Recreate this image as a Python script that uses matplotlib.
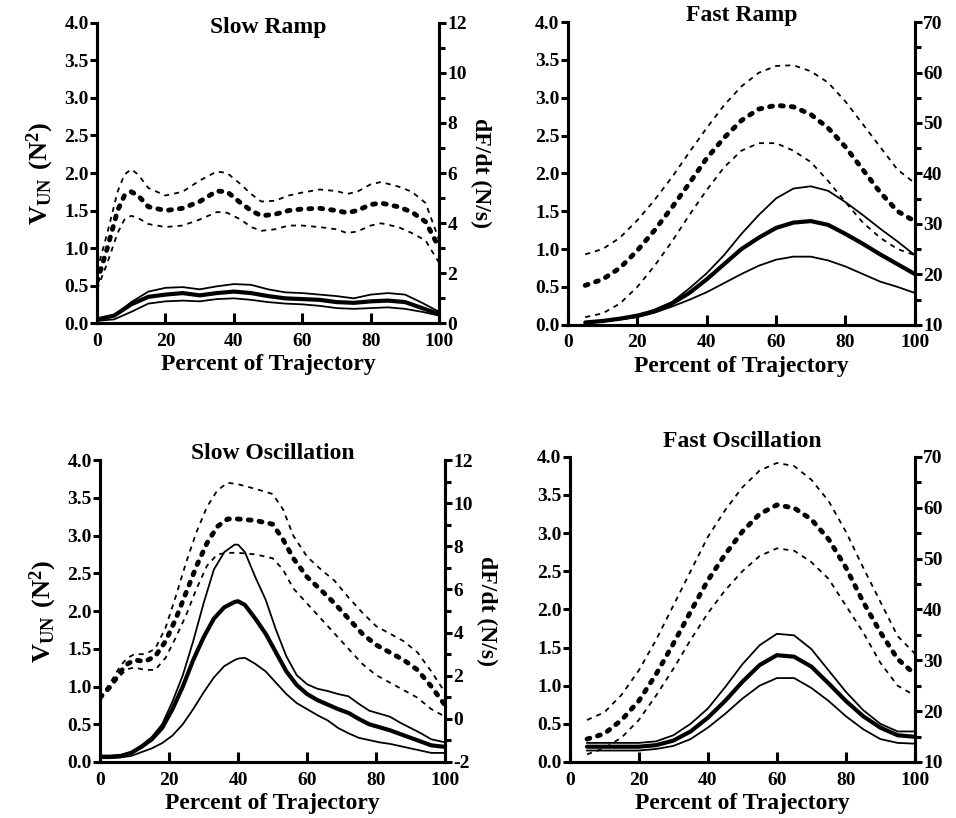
import matplotlib
matplotlib.use("Agg")
import matplotlib.pyplot as plt
import numpy as np
from matplotlib.ticker import MultipleLocator

plt.rcParams['font.family'] = 'Liberation Serif'
plt.rcParams['font.weight'] = 'bold'
plt.rcParams['axes.unicode_minus'] = False
plt.rcParams['mathtext.fontset'] = 'custom'
plt.rcParams['mathtext.rm'] = 'Liberation Serif:bold'
plt.rcParams['mathtext.bf'] = 'Liberation Serif:bold'

# ---- Slow Ramp ----
sr_x = [0, 5, 10, 15, 20, 25, 30, 35, 40, 45, 50, 55, 60, 65, 70, 75, 80, 85, 90, 95, 100]
sr_v = [0.05, 0.1, 0.25, 0.35, 0.38, 0.4, 0.37, 0.4, 0.42, 0.4, 0.36, 0.33, 0.32, 0.31, 0.28, 0.27, 0.29, 0.3, 0.28, 0.2, 0.12]
sr_v_hi = [0.05, 0.1, 0.28, 0.42, 0.47, 0.48, 0.45, 0.49, 0.52, 0.51, 0.45, 0.41, 0.4, 0.38, 0.36, 0.33, 0.38, 0.4, 0.38, 0.27, 0.15]
sr_v_lo = [0.03, 0.05, 0.15, 0.26, 0.29, 0.3, 0.29, 0.32, 0.33, 0.31, 0.28, 0.26, 0.25, 0.23, 0.2, 0.19, 0.2, 0.21, 0.19, 0.15, 0.1]
sr_dx = [0, 3, 6, 8, 10, 12, 15, 20, 25, 30, 35, 38, 42, 45, 48, 52, 56, 60, 65, 70, 73, 76, 80, 83, 88, 92, 96, 100]
sr_df = [1.65, 3.0, 4.5, 5.1, 5.25, 5.1, 4.65, 4.5, 4.59, 4.86, 5.28, 5.25, 4.8, 4.5, 4.29, 4.35,
         4.5, 4.56, 4.59, 4.5, 4.41, 4.5, 4.74, 4.8, 4.65, 4.44, 4.05, 3.0]
sr_df_hi = [2.1, 3.6, 5.25, 5.94, 6.15, 5.94, 5.4, 5.1, 5.25, 5.7, 6.06, 6.0, 5.55, 5.16, 4.86, 4.89,
            5.1, 5.22, 5.34, 5.28, 5.16, 5.25, 5.55, 5.64, 5.46, 5.25, 4.8, 3.3]
sr_df_lo = [1.35, 2.4, 3.6, 4.14, 4.29, 4.2, 3.96, 3.84, 3.9, 4.14, 4.44, 4.41, 4.14, 3.84, 3.69, 3.75,
            3.9, 3.9, 3.84, 3.75, 3.6, 3.66, 3.9, 3.99, 3.84, 3.6, 3.3, 2.4]

# ---- Fast Ramp ----
fr_x = [5, 10, 15, 20, 25, 30, 35, 40, 45, 50, 55, 60, 65, 70, 75, 80, 85, 90, 95, 100]
fr_v = [0.03, 0.05, 0.08, 0.12, 0.18, 0.28, 0.42, 0.6, 0.8, 1.0, 1.15, 1.28, 1.35, 1.37, 1.32, 1.2, 1.07, 0.93, 0.8, 0.67]
fr_v_hi = [0.03, 0.05, 0.08, 0.12, 0.2, 0.3, 0.48, 0.68, 0.92, 1.2, 1.45, 1.67, 1.8, 1.83, 1.77, 1.62, 1.45, 1.27, 1.1, 0.92]
fr_v_lo = [0.02, 0.04, 0.07, 0.1, 0.16, 0.24, 0.33, 0.43, 0.55, 0.67, 0.78, 0.86, 0.9, 0.9, 0.85, 0.77, 0.67, 0.57, 0.5, 0.42]
fr_df = [17.8, 19.0, 21.25, 24.7, 28.75, 33.25, 38.05, 43.0, 47.05, 50.5, 52.75, 53.5, 53.2, 51.7, 49.0, 45.25, 40.75, 36.25, 32.5, 30.5]
fr_df_hi = [23.95, 25.0, 27.25, 30.7, 34.75, 39.25, 44.2, 49.0, 53.5, 57.25, 59.95, 61.3, 61.45, 60.25, 58.0, 54.25, 49.75, 45.25, 40.75, 38.05]
fr_df_lo = [11.5, 12.25, 14.2, 17.5, 21.7, 26.5, 31.75, 36.7, 41.2, 44.5, 46.0, 46.0, 44.5, 42.25, 38.5, 34.3, 30.25, 27.25, 25.0, 23.8]

# ---- Slow Oscillation ----
so_x = [0, 3, 6, 9, 12, 15, 18, 21, 24, 27, 30, 33, 36, 39, 40, 42, 45, 48, 51, 54, 57, 60, 63, 66,
        69, 72, 75, 78, 81, 84, 87, 90, 93, 96, 100]
so_v = [0.07, 0.07, 0.08, 0.12, 0.2, 0.3, 0.45, 0.7, 1.0, 1.35, 1.65, 1.9, 2.05, 2.12, 2.13, 2.08, 1.9, 1.7,
        1.45, 1.2, 1.02, 0.9, 0.82, 0.76, 0.7, 0.65, 0.57, 0.5, 0.46, 0.42, 0.37, 0.32, 0.27, 0.22, 0.2]
so_v_hi = [0.08, 0.08, 0.09, 0.13, 0.22, 0.33, 0.5, 0.8, 1.15, 1.6, 2.1, 2.55, 2.78, 2.88, 2.88, 2.78, 2.45, 2.15,
           1.75, 1.4, 1.15, 1.03, 0.97, 0.94, 0.9, 0.87, 0.77, 0.68, 0.64, 0.6, 0.52, 0.45, 0.38, 0.3, 0.26]
so_v_lo = [0.05, 0.05, 0.06, 0.08, 0.13, 0.18, 0.25, 0.35, 0.5, 0.7, 0.92, 1.12, 1.27, 1.35, 1.37, 1.38, 1.3, 1.2,
           1.05, 0.9, 0.78, 0.7, 0.62, 0.55, 0.45, 0.38, 0.32, 0.29, 0.26, 0.24, 0.21, 0.18, 0.15, 0.12, 0.12]
so_dx = [0, 3, 6, 8, 10, 13, 16, 19, 22, 25, 28, 31, 34, 37, 40, 45, 50, 53, 56, 60, 64, 68, 72, 76, 80, 84, 88, 92, 96, 100]
so_df = [0.98, 1.5, 2.2, 2.55, 2.73, 2.66, 2.9, 3.6, 4.65, 5.88, 7.1, 8.15, 8.92, 9.27, 9.27, 9.2, 9.03, 8.33,
         7.45, 6.58, 5.98, 5.35, 4.65, 3.95, 3.43, 3.08, 2.73, 2.27, 1.5, 0.63]
so_df_hi = [0.98, 1.68, 2.48, 2.83, 3.0, 3.0, 3.25, 4.23, 5.7, 7.28, 8.68, 9.83, 10.6, 10.95, 10.88, 10.67, 10.43, 9.73,
            8.5, 7.52, 6.93, 6.4, 5.63, 4.93, 4.3, 3.95, 3.6, 3.08, 2.2, 1.22]
so_df_lo = [0.98, 1.43, 2.03, 2.31, 2.38, 2.27, 2.27, 2.83, 3.78, 4.83, 6.05, 7.1, 7.63, 7.7, 7.7, 7.63, 7.45, 6.93,
            6.05, 5.35, 4.65, 3.95, 3.25, 2.55, 2.03, 1.68, 1.33, 0.98, 0.45, 0.1]

# ---- Fast Oscillation ----
fo_x = [5, 10, 15, 20, 25, 30, 35, 40, 45, 50, 55, 60, 65, 70, 75, 80, 85, 90, 95, 100]
fo_v = [0.2, 0.2, 0.2, 0.2, 0.22, 0.28, 0.4, 0.58, 0.8, 1.05, 1.27, 1.4, 1.38, 1.25, 1.03, 0.8, 0.6, 0.45, 0.35, 0.33]
fo_v_hi = [0.25, 0.25, 0.25, 0.25, 0.27, 0.35, 0.5, 0.7, 0.98, 1.28, 1.53, 1.68, 1.66, 1.48, 1.2, 0.92, 0.68, 0.5, 0.4, 0.4]
fo_v_lo = [0.15, 0.15, 0.15, 0.15, 0.17, 0.21, 0.3, 0.45, 0.63, 0.83, 1.0, 1.1, 1.1, 0.97, 0.8, 0.6, 0.43, 0.3, 0.25, 0.24]
fo_df = [14.5, 15.55, 18.25, 22.0, 27.25, 33.25, 39.55, 45.7, 50.8, 55.3, 58.75, 60.55, 59.95, 57.7, 53.8, 48.25, 41.5, 35.5, 30.25, 27.25]
fo_df_hi = [18.25, 19.75, 23.2, 28.0, 34.0, 40.75, 47.5, 54.25, 59.5, 64.0, 67.3, 68.8, 68.2, 65.5, 61.3, 55.3, 48.25, 41.5, 34.75, 31.3]
fo_df_lo = [11.5, 12.7, 14.8, 18.25, 23.05, 28.3, 34.0, 39.25, 43.75, 47.5, 50.5, 52.0, 51.55, 49.3, 46.0, 40.75, 35.5, 29.5, 25.0, 23.05]

panels = [
    dict(title="Slow Ramp", pos=[0.1015, 0.605, 0.358, 0.367], ty=0.985, rlim=(0, 12), rstep=2,
         x=sr_x, v=(sr_v, sr_v_hi, sr_v_lo), dx=sr_dx, df=(sr_df, sr_df_hi, sr_df_lo), vlab=True, dlab=True),
    dict(title="Fast Ramp", pos=[0.594, 0.603, 0.363, 0.370], ty=1.023, rlim=(10, 70), rstep=10,
         x=fr_x, v=(fr_v, fr_v_hi, fr_v_lo), dx=fr_x, df=(fr_df, fr_df_hi, fr_df_lo), vlab=False, dlab=False),
    dict(title="Slow Oscillation", pos=[0.1046, 0.0685, 0.361, 0.369], ty=1.023, rlim=(-2, 12), rstep=2,
         x=so_x, v=(so_v, so_v_hi, so_v_lo), dx=so_dx, df=(so_df, so_df_hi, so_df_lo), vlab=True, dlab=True),
    dict(title="Fast Oscillation", pos=[0.596, 0.0685, 0.361, 0.373], ty=1.05, rlim=(10, 70), rstep=10,
         x=fo_x, v=(fo_v, fo_v_hi, fo_v_lo), dx=fo_x, df=(fo_df, fo_df_hi, fo_df_lo), vlab=False, dlab=False),
]

fig = plt.figure(figsize=(9.56, 8.18), dpi=100)

for p in panels:
    ax = fig.add_axes(p["pos"])
    ax2 = ax.twinx()
    ax.set_zorder(ax2.get_zorder() + 1)
    ax.patch.set_visible(False)

    # V_UN (solid)
    ax.plot(p["x"], p["v"][0], color="black", lw=3.0, solid_capstyle="round")
    ax.plot(p["x"], p["v"][1], color="black", lw=1.3)
    ax.plot(p["x"], p["v"][2], color="black", lw=1.3)
    # dF/dt (dashed)
    ax2.plot(p["dx"], p["df"][0], color="black", lw=3.5, linestyle=(0, (0.6, 1.65)), dash_capstyle="round")
    ax2.plot(p["dx"], p["df"][1], color="black", lw=1.3, linestyle=(0, (2.8, 2.8)))
    ax2.plot(p["dx"], p["df"][2], color="black", lw=1.3, linestyle=(0, (2.8, 2.8)))

    ax.set_xlim(0, 100)
    ax.set_ylim(0, 4)
    ax2.set_ylim(*p["rlim"])
    ax.set_xticks([0, 20, 40, 60, 80, 100])
    ax.set_yticks(np.arange(0, 4.01, 0.5))
    ax.set_yticklabels([f"{t:.1f}" for t in np.arange(0, 4.01, 0.5)])
    ax2.yaxis.set_major_locator(MultipleLocator(p["rstep"]))
    ax2.yaxis.set_minor_locator(MultipleLocator(p["rstep"] / 2))

    for a in (ax, ax2):
        a.spines["top"].set_visible(False)
        for s in ("left", "right", "bottom"):
            a.spines[s].set_linewidth(2.2)
    ax.tick_params(axis="x", direction="in", length=7, width=2.2, labelsize=14, pad=7)
    ax.tick_params(axis="y", direction="out", length=5, width=2.2, labelsize=14, pad=1)
    ax2.tick_params(axis="y", which="major", direction="out", length=5, width=2.2, labelsize=14, pad=1)
    ax2.tick_params(axis="y", which="minor", direction="out", length=4, width=2.2)

    ax.set_xlabel("Percent of Trajectory", fontsize=17, fontweight="bold", labelpad=3)
    if p["vlab"]:
        ax.set_ylabel(r"$\mathrm{V_{UN}\ (N^2)}$", fontsize=19, labelpad=6)
    if p["dlab"]:
        ax2.set_ylabel("dF/dt (N/s)", fontsize=17, fontweight="bold", rotation=270, labelpad=17)
    ax.text(0.5, p["ty"], p["title"], transform=ax.transAxes, ha="center", va="center",
            fontsize=17, fontweight="bold")

fig.savefig("out.png", dpi=100)
